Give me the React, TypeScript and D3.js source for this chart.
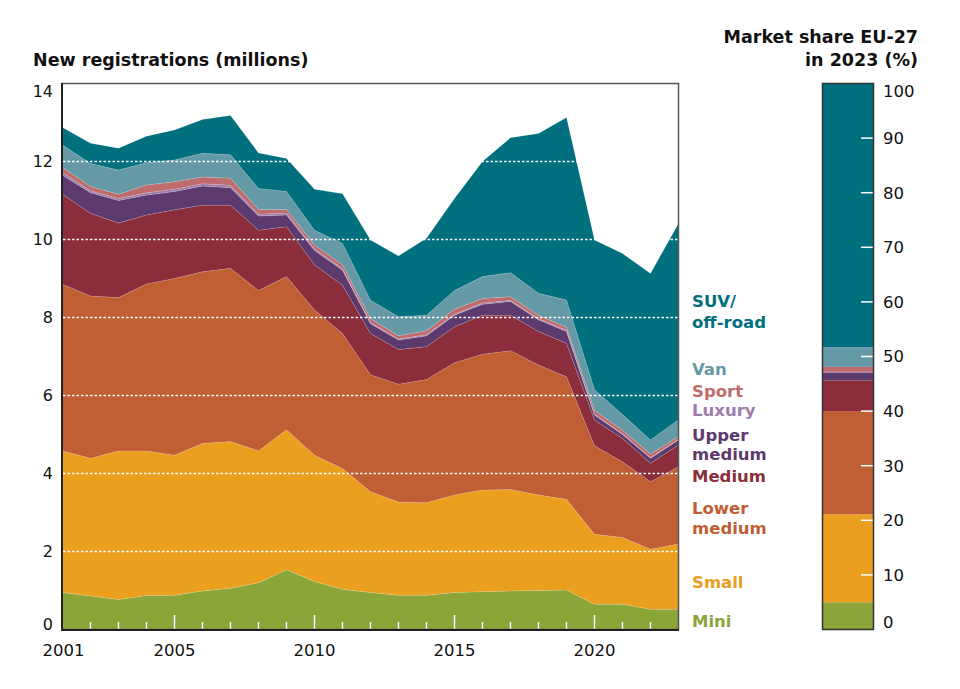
import React, { useEffect, useRef } from 'react';
import * as d3 from 'd3';

const years = [2001, 2002, 2003, 2004, 2005, 2006, 2007, 2008, 2009, 2010, 2011, 2012, 2013, 2014, 2015, 2016, 2017, 2018, 2019, 2020, 2021, 2022, 2023];

const mini = [0.95, 0.86, 0.77, 0.87, 0.88, 0.99, 1.06, 1.20, 1.53, 1.23, 1.03, 0.95, 0.88, 0.88, 0.95, 0.97, 0.99, 1.00, 1.01, 0.65, 0.65, 0.52, 0.52];
const small = [3.63, 3.53, 3.81, 3.71, 3.59, 3.78, 3.76, 3.38, 3.59, 3.24, 3.10, 2.58, 2.39, 2.37, 2.50, 2.61, 2.60, 2.45, 2.33, 1.79, 1.71, 1.54, 1.67];
const lowerMedium = [4.27, 4.16, 3.93, 4.28, 4.53, 4.40, 4.44, 4.11, 3.93, 3.72, 3.46, 3.00, 3.02, 3.16, 3.39, 3.48, 3.56, 3.33, 3.14, 2.27, 1.94, 1.73, 1.98];
const medium = [2.31, 2.12, 1.91, 1.77, 1.76, 1.71, 1.62, 1.55, 1.28, 1.16, 1.24, 1.06, 0.89, 0.84, 0.92, 1.00, 0.91, 0.86, 0.86, 0.66, 0.60, 0.47, 0.56];
const upperMedium = [0.49, 0.53, 0.58, 0.51, 0.47, 0.49, 0.45, 0.36, 0.30, 0.37, 0.38, 0.25, 0.24, 0.28, 0.30, 0.28, 0.35, 0.30, 0.30, 0.13, 0.10, 0.13, 0.13];
const luxury = [0.07, 0.05, 0.05, 0.06, 0.06, 0.06, 0.06, 0.05, 0.05, 0.04, 0.04, 0.03, 0.03, 0.03, 0.03, 0.03, 0.03, 0.03, 0.03, 0.02, 0.02, 0.02, 0.02];
const sport = [0.13, 0.11, 0.11, 0.20, 0.19, 0.17, 0.18, 0.12, 0.09, 0.10, 0.10, 0.10, 0.08, 0.10, 0.12, 0.12, 0.09, 0.09, 0.08, 0.10, 0.09, 0.09, 0.07];
const van = [0.57, 0.59, 0.62, 0.57, 0.56, 0.61, 0.60, 0.54, 0.46, 0.38, 0.55, 0.47, 0.49, 0.40, 0.48, 0.56, 0.62, 0.56, 0.70, 0.53, 0.40, 0.36, 0.43];
const suv = [0.45, 0.52, 0.56, 0.68, 0.77, 0.87, 1.01, 0.91, 0.85, 1.05, 1.27, 1.55, 1.56, 1.97, 2.36, 2.95, 3.46, 4.10, 4.68, 3.84, 4.13, 4.27, 5.03];

const segmentKeys = ['mini', 'small', 'lowerMedium', 'medium', 'upperMedium', 'luxury', 'sport', 'van', 'suv'];
const segmentColors = ['#8BA538', '#EA9F1F', '#C05E34', '#8B2D3A', '#5D3A6D', '#A07CAB', '#BF6B6B', '#6699A6', '#00707E'];
const share2023 = [5.0, 16.1, 18.9, 5.6, 1.4, 0.2, 0.9, 3.6, 48.3];

const yTicks = [0, 2, 4, 6, 8, 10, 12, 14];
const xTickLabels = [2001, 2005, 2010, 2015, 2020];
const shareTicks = [0, 10, 20, 30, 40, 50, 60, 70, 80, 90, 100];

const legendLines = [
  { text: 'SUV/', key: 'suv' },
  { text: 'off-road', key: 'suv' },
  { text: 'Van', key: 'van' },
  { text: 'Sport', key: 'sport' },
  { text: 'Luxury', key: 'luxury' },
  { text: 'Upper', key: 'upperMedium' },
  { text: 'medium', key: 'upperMedium' },
  { text: 'Medium', key: 'medium' },
  { text: 'Lower', key: 'lowerMedium' },
  { text: 'medium', key: 'lowerMedium' },
  { text: 'Small', key: 'small' },
  { text: 'Mini', key: 'mini' },
];
const legendBaselines = [307, 328, 375, 397, 416, 441, 460, 482, 514, 534, 588, 627];

const FONT = "'DejaVu Sans', Verdana, sans-serif";

export default function App() {
  const ref = useRef<SVGSVGElement>(null);

  useEffect(() => {
    const svg = d3.select(ref.current);
    svg.selectAll('*').remove();

    const series: Record<string, number[]> = { mini, small, lowerMedium, medium, upperMedium, luxury, sport, van, suv };
    const rows = years.map((yr, i) => {
      const r: any = { year: yr };
      segmentKeys.forEach((k) => (r[k] = series[k][i]));
      return r;
    });
    const color = d3.scaleOrdinal<string, string>().domain(segmentKeys).range(segmentColors);

    const x = d3.scaleLinear().domain([2001, 2023]).range([62.5, 678.5]);
    const y = d3.scaleLinear().domain([0, 14]).range([629.5, 83.5]);

    const stack = d3.stack<any>().keys(segmentKeys);
    const stacked = stack(rows);
    const area = d3
      .area<any>()
      .x((d) => x(d.data.year))
      .y0((d) => y(d[0]))
      .y1((d) => y(d[1]));

    const g = svg.append('g');
    g.selectAll('path.area')
      .data(stacked)
      .join('path')
      .attr('class', 'area')
      .attr('d', area as any)
      .attr('fill', (d) => color(d.key))
      .attr('stroke', 'rgba(255,255,255,0.25)')
      .attr('stroke-width', 0.5);

    // gridlines
    g.selectAll('line.grid')
      .data(yTicks.filter((t) => t > 0 && t < 14))
      .join('line')
      .attr('x1', 63)
      .attr('x2', 678)
      .attr('y1', (d) => y(d))
      .attr('y2', (d) => y(d))
      .attr('stroke', '#fff')
      .attr('stroke-width', 1.5)
      .attr('stroke-dasharray', '2.5,2');

    // x ticks (inside, white)
    const tickYears = years.filter((yr) => yr > 2001 && yr < 2023);
    g.selectAll('line.xtick')
      .data(tickYears)
      .join('line')
      .attr('x1', (d) => x(d))
      .attr('x2', (d) => x(d))
      .attr('y1', 629.5)
      .attr('y2', (d) => (d % 5 === 0 ? 615 : 622))
      .attr('stroke', '#fff')
      .attr('stroke-width', 1.5);

    // frame
    g.append('rect')
      .attr('x', 62)
      .attr('y', 83.5)
      .attr('width', 616.5)
      .attr('height', 546)
      .attr('fill', 'none')
      .attr('stroke', '#555')
      .attr('stroke-width', 1.5);
    g.append('line').attr('x1', 62).attr('x2', 62).attr('y1', 83).attr('y2', 630.5).attr('stroke', '#222').attr('stroke-width', 2);
    g.append('line').attr('x1', 61).attr('x2', 679).attr('y1', 630).attr('y2', 630).attr('stroke', '#222').attr('stroke-width', 2);

    // y tick labels
    g.selectAll('text.ylab')
      .data(yTicks)
      .join('text')
      .attr('x', 53)
      .attr('y', (d) => (d === 14 ? y(d) + 8 : d === 0 ? y(d) - 5.5 : y(d)))
      .attr('dy', '0.36em')
      .attr('text-anchor', 'end')
      .attr('font-family', FONT)
      .attr('font-size', 16)
      .attr('fill', '#111')
      .text((d) => d);

    // x tick labels
    g.selectAll('text.xlab')
      .data(xTickLabels)
      .join('text')
      .attr('x', (d) => x(d) + (d === 2001 ? 1 : 0))
      .attr('y', 656)
      .attr('text-anchor', 'middle')
      .attr('font-family', FONT)
      .attr('font-size', 16.5)
      .attr('fill', '#111')
      .text((d) => d);

    // titles
    g.append('text')
      .attr('x', 33)
      .attr('y', 66)
      .attr('font-family', FONT)
      .attr('font-weight', 700)
      .attr('font-size', 17.5)
      .attr('fill', '#111')
      .text('New registrations (millions)');
    g.append('text')
      .attr('x', 918)
      .attr('y', 43)
      .attr('text-anchor', 'end')
      .attr('font-family', FONT)
      .attr('font-weight', 700)
      .attr('font-size', 17.5)
      .attr('fill', '#111')
      .text('Market share EU-27');
    g.append('text')
      .attr('x', 918)
      .attr('y', 66)
      .attr('text-anchor', 'end')
      .attr('font-family', FONT)
      .attr('font-weight', 700)
      .attr('font-size', 17.5)
      .attr('fill', '#111')
      .text('in 2023 (%)');

    // legend labels
    g.selectAll('text.leg')
      .data(legendLines)
      .join('text')
      .attr('x', 692)
      .attr('y', (d, i) => legendBaselines[i])
      .attr('font-family', FONT)
      .attr('font-weight', 700)
      .attr('font-size', 16.5)
      .attr('fill', (d) => color(d.key))
      .text((d) => d.text);

    // share bar
    const ys = d3.scaleLinear().domain([0, 100]).range([629.5, 83.5]);
    const cum = Array.from(d3.cumsum(share2023));
    const segs = segmentKeys.map((k, i) => ({ key: k, y0: i === 0 ? 0 : cum[i - 1], y1: cum[i] }));
    const bx0 = 822.5;
    const bx1 = 873.5;
    g.selectAll('rect.share')
      .data(segs)
      .join('rect')
      .attr('x', bx0)
      .attr('width', bx1 - bx0)
      .attr('y', (d) => ys(Math.min(100, d.y1)))
      .attr('height', (d) => ys(d.y0) - ys(Math.min(100, d.y1)))
      .attr('fill', (d) => color(d.key));
    g.selectAll('line.stick')
      .data(shareTicks.filter((t) => t > 0 && t < 100))
      .join('line')
      .attr('x1', 861)
      .attr('x2', bx1)
      .attr('y1', (d) => ys(d))
      .attr('y2', (d) => ys(d))
      .attr('stroke', '#fff')
      .attr('stroke-width', 1.5);
    g.append('rect')
      .attr('x', bx0)
      .attr('y', 83.5)
      .attr('width', bx1 - bx0)
      .attr('height', 546)
      .attr('fill', 'none')
      .attr('stroke', '#333')
      .attr('stroke-width', 1.5);
    g.selectAll('text.slab')
      .data(shareTicks)
      .join('text')
      .attr('x', 883)
      .attr('y', (d) => (d === 100 ? ys(d) + 8 : d === 0 ? ys(d) - 7 : ys(d)))
      .attr('dy', '0.36em')
      .attr('font-family', FONT)
      .attr('font-size', 16.5)
      .attr('fill', '#111')
      .text((d) => d);
  }, []);

  return (
    <svg
      ref={ref}
      width={960}
      height={689}
      style={{ position: 'absolute', left: 0, top: 0, background: '#fff' }}
    />
  );
}
